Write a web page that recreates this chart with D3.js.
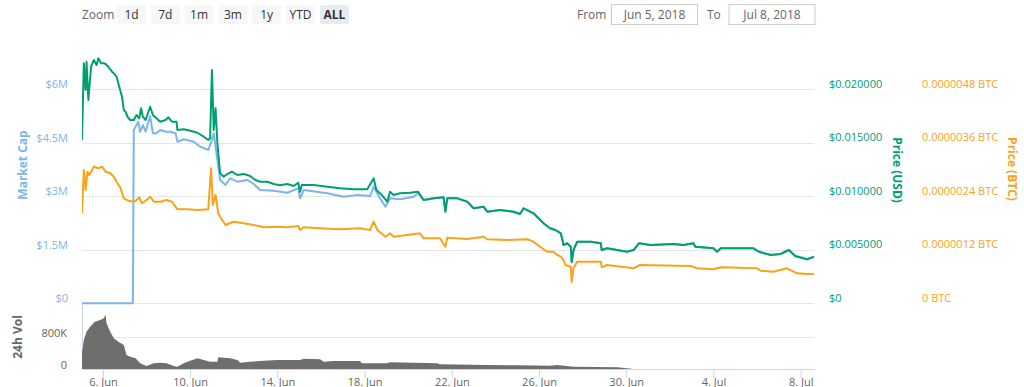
<!DOCTYPE html>
<html>
<head>
<meta charset="utf-8">
<script src="https://cdn.jsdelivr.net/npm/d3@7"></script>
<style>
  body { margin: 0; background: #fff; }
  svg { display: block; font-family: "Open Sans", "DejaVu Sans", sans-serif; }
</style>
</head>
<body>
<svg id="chart" width="1024" height="387"></svg>
<script>
const width = 1024;
const height = 387;

// chart data
const marketCap = [
  ["2018-06-05 01:00", 0], ["2018-06-07 09:00", 0], ["2018-06-07 10:00", 4859000],
  ["2018-06-07 12:00", 4951000], ["2018-06-07 15:00", 5092000], ["2018-06-07 17:00", 4811000],
  ["2018-06-07 20:00", 4999000], ["2018-06-07 23:00", 4811000], ["2018-06-08 04:00", 5251000],
  ["2018-06-08 07:00", 4766000], ["2018-06-08 11:00", 4766000], ["2018-06-08 15:00", 4859000],
  ["2018-06-08 21:00", 4811000], ["2018-06-09 02:00", 4811000], ["2018-06-09 08:00", 4766000],
  ["2018-06-09 10:00", 4531000], ["2018-06-09 17:00", 4598000], ["2018-06-10 04:00", 4531000],
  ["2018-06-10 11:00", 4391000], ["2018-06-10 20:00", 4298000], ["2018-06-11 00:00", 4578000],
  ["2018-06-11 02:00", 4766000], ["2018-06-11 04:00", 4391000], ["2018-06-11 09:00", 3457000],
  ["2018-06-11 15:00", 3317000], ["2018-06-11 20:00", 3505000], ["2018-06-12 04:00", 3409000],
  ["2018-06-12 15:00", 3457000], ["2018-06-12 22:00", 3345000], ["2018-06-13 05:00", 3177000],
  ["2018-06-13 20:00", 3157000], ["2018-06-14 11:00", 3101000], ["2018-06-14 23:00", 3224000],
  ["2018-06-15 01:00", 2944000], ["2018-06-15 05:00", 3177000], ["2018-06-16 07:00", 3084000],
  ["2018-06-17 01:00", 2989000], ["2018-06-17 16:00", 3036000], ["2018-06-18 06:00", 3008000],
  ["2018-06-18 10:00", 3269000], ["2018-06-18 17:00", 2944000], ["2018-06-18 23:00", 2708000],
  ["2018-06-19 04:00", 2944000], ["2018-06-19 15:00", 2916000], ["2018-06-20 06:00", 2989000],
  ["2018-06-20 11:00", 3084000], ["2018-06-20 17:00", 2896000], ["2018-06-21 04:00", 2944000],
  ["2018-06-21 15:00", 2972000], ["2018-06-21 17:00", 2568000], ["2018-06-21 19:00", 2944000],
  ["2018-06-22 06:00", 2944000], ["2018-06-22 17:00", 2849000], ["2018-06-23 00:00", 2664000],
  ["2018-06-23 11:00", 2708000], ["2018-06-23 15:00", 2568000], ["2018-06-24 05:00", 2616000],
  ["2018-06-24 20:00", 2568000], ["2018-06-25 03:00", 2504000], ["2018-06-25 07:00", 2664000],
  ["2018-06-25 18:00", 2523000], ["2018-06-26 05:00", 2243000], ["2018-06-26 12:00", 2103000],
  ["2018-06-26 18:00", 2055000], ["2018-06-27 00:00", 1963000], ["2018-06-27 03:00", 1635000],
  ["2018-06-27 07:00", 1682000], ["2018-06-27 11:00", 1587000], ["2018-06-27 12:00", 1158000],
  ["2018-06-27 14:00", 1494000], ["2018-06-27 18:00", 1727000], ["2018-06-28 09:00", 1727000],
  ["2018-06-28 20:00", 1682000], ["2018-06-28 21:00", 1494000], ["2018-06-29 03:00", 1542000],
  ["2018-06-29 14:00", 1494000], ["2018-06-30 01:00", 1447000], ["2018-06-30 08:00", 1494000],
  ["2018-06-30 14:00", 1682000], ["2018-07-01 03:00", 1635000], ["2018-07-02 04:00", 1663000],
  ["2018-07-02 15:00", 1635000], ["2018-07-03 02:00", 1682000], ["2018-07-03 04:00", 1587000],
  ["2018-07-04 00:00", 1542000], ["2018-07-04 04:00", 1447000], ["2018-07-04 08:00", 1542000],
  ["2018-07-05 06:00", 1542000], ["2018-07-05 20:00", 1542000], ["2018-07-06 02:00", 1447000],
  ["2018-07-06 15:00", 1354000], ["2018-07-07 02:00", 1382000], ["2018-07-07 11:00", 1494000],
  ["2018-07-07 18:00", 1326000], ["2018-07-08 07:00", 1234000], ["2018-07-08 15:00", 1307000]
];

const priceUsd = [
  ["2018-06-05 01:00", 0.01526], ["2018-06-05 03:00", 0.02243], ["2018-06-05 05:00", 0.01994],
  ["2018-06-05 06:00", 0.02258], ["2018-06-05 08:00", 0.01900], ["2018-06-05 11:00", 0.02211],
  ["2018-06-05 14:00", 0.02274], ["2018-06-05 17:00", 0.02227], ["2018-06-05 19:00", 0.02290],
  ["2018-06-05 22:00", 0.02243], ["2018-06-06 01:00", 0.02243], ["2018-06-06 03:00", 0.02237],
  ["2018-06-06 06:00", 0.02211], ["2018-06-06 10:00", 0.02165], ["2018-06-06 12:00", 0.02150],
  ["2018-06-06 15:00", 0.02118], ["2018-06-06 18:00", 0.02024], ["2018-06-06 21:00", 0.01931],
  ["2018-06-06 23:00", 0.01807], ["2018-06-07 01:00", 0.01791], ["2018-06-07 03:00", 0.01744],
  ["2018-06-07 06:00", 0.01713], ["2018-06-07 10:00", 0.01713], ["2018-06-07 13:00", 0.01760],
  ["2018-06-07 16:00", 0.01729], ["2018-06-07 18:00", 0.01822], ["2018-06-07 20:00", 0.01744],
  ["2018-06-07 23:00", 0.01713], ["2018-06-08 04:00", 0.01837], ["2018-06-08 07:00", 0.01760],
  ["2018-06-08 11:00", 0.01729], ["2018-06-08 15:00", 0.01697], ["2018-06-08 21:00", 0.01713],
  ["2018-06-09 00:00", 0.01738], ["2018-06-09 04:00", 0.01697], ["2018-06-09 09:00", 0.01697],
  ["2018-06-09 10:00", 0.01620], ["2018-06-09 17:00", 0.01626], ["2018-06-10 00:00", 0.01613],
  ["2018-06-10 08:00", 0.01594], ["2018-06-10 15:00", 0.01557], ["2018-06-10 20:00", 0.01526],
  ["2018-06-10 22:00", 0.01542], ["2018-06-11 00:00", 0.02180], ["2018-06-11 02:00", 0.01620],
  ["2018-06-11 04:00", 0.01822], ["2018-06-11 06:00", 0.01498], ["2018-06-11 09:00", 0.01215],
  ["2018-06-11 13:00", 0.01183], ["2018-06-11 17:00", 0.01208], ["2018-06-11 22:00", 0.01230],
  ["2018-06-12 04:00", 0.01199], ["2018-06-12 11:00", 0.01208], ["2018-06-12 18:00", 0.01190],
  ["2018-06-13 00:00", 0.01152], ["2018-06-13 05:00", 0.01136], ["2018-06-13 13:00", 0.01136],
  ["2018-06-13 20:00", 0.01115], ["2018-06-14 03:00", 0.01103], ["2018-06-14 11:00", 0.01115],
  ["2018-06-14 18:00", 0.01096], ["2018-06-14 23:00", 0.01127], ["2018-06-15 01:00", 0.01043],
  ["2018-06-15 03:00", 0.01106], ["2018-06-15 16:00", 0.01106], ["2018-06-16 07:00", 0.01090],
  ["2018-06-16 21:00", 0.01075], ["2018-06-17 12:00", 0.01065], ["2018-06-18 03:00", 0.01065],
  ["2018-06-18 10:00", 0.01168], ["2018-06-18 13:00", 0.01059], ["2018-06-18 19:00", 0.01012],
  ["2018-06-19 01:00", 0.00950], ["2018-06-19 04:00", 0.01043], ["2018-06-19 08:00", 0.01012],
  ["2018-06-19 15:00", 0.01028], ["2018-06-20 02:00", 0.01034], ["2018-06-20 11:00", 0.01043],
  ["2018-06-20 17:00", 0.00965], ["2018-06-21 04:00", 0.00981], ["2018-06-21 15:00", 0.00991],
  ["2018-06-21 17:00", 0.00856], ["2018-06-21 19:00", 0.00981], ["2018-06-22 06:00", 0.00981],
  ["2018-06-22 17:00", 0.00950], ["2018-06-23 00:00", 0.00888], ["2018-06-23 11:00", 0.00903],
  ["2018-06-23 15:00", 0.00856], ["2018-06-24 05:00", 0.00872], ["2018-06-24 20:00", 0.00856],
  ["2018-06-25 03:00", 0.00835], ["2018-06-25 07:00", 0.00888], ["2018-06-25 18:00", 0.00841],
  ["2018-06-26 05:00", 0.00748], ["2018-06-26 12:00", 0.00701], ["2018-06-26 18:00", 0.00685],
  ["2018-06-27 00:00", 0.00654], ["2018-06-27 03:00", 0.00545], ["2018-06-27 07:00", 0.00561],
  ["2018-06-27 11:00", 0.00529], ["2018-06-27 12:00", 0.00386], ["2018-06-27 14:00", 0.00498],
  ["2018-06-27 18:00", 0.00576], ["2018-06-28 09:00", 0.00576], ["2018-06-28 20:00", 0.00561],
  ["2018-06-28 21:00", 0.00498], ["2018-06-29 03:00", 0.00514], ["2018-06-29 14:00", 0.00498],
  ["2018-06-30 01:00", 0.00482], ["2018-06-30 08:00", 0.00498], ["2018-06-30 14:00", 0.00561],
  ["2018-07-01 03:00", 0.00545], ["2018-07-02 04:00", 0.00554], ["2018-07-02 15:00", 0.00545],
  ["2018-07-03 02:00", 0.00561], ["2018-07-03 04:00", 0.00529], ["2018-07-04 00:00", 0.00514],
  ["2018-07-04 04:00", 0.00482], ["2018-07-04 08:00", 0.00514], ["2018-07-05 06:00", 0.00514],
  ["2018-07-05 20:00", 0.00514], ["2018-07-06 02:00", 0.00482], ["2018-07-06 15:00", 0.00451],
  ["2018-07-07 02:00", 0.00461], ["2018-07-07 11:00", 0.00498], ["2018-07-07 18:00", 0.00442],
  ["2018-07-08 07:00", 0.00411], ["2018-07-08 15:00", 0.00436]
];

const priceBtc = [
  ["2018-06-05 01:00", 2.019e-6], ["2018-06-05 03:00", 2.990e-6], ["2018-06-05 05:00", 2.541e-6],
  ["2018-06-05 07:00", 2.952e-6], ["2018-06-05 09:00", 2.878e-6], ["2018-06-05 14:00", 3.064e-6],
  ["2018-06-05 19:00", 3.028e-6], ["2018-06-05 23:00", 3.064e-6], ["2018-06-06 03:00", 2.952e-6],
  ["2018-06-06 08:00", 2.916e-6], ["2018-06-06 12:00", 2.840e-6], ["2018-06-06 15:00", 2.728e-6],
  ["2018-06-06 19:00", 2.602e-6], ["2018-06-06 23:00", 2.355e-6], ["2018-06-07 04:00", 2.301e-6],
  ["2018-06-07 10:00", 2.279e-6], ["2018-06-07 13:00", 2.317e-6], ["2018-06-07 16:00", 2.378e-6],
  ["2018-06-07 19:00", 2.243e-6], ["2018-06-08 00:00", 2.317e-6], ["2018-06-08 04:00", 2.391e-6],
  ["2018-06-08 08:00", 2.279e-6], ["2018-06-08 15:00", 2.279e-6], ["2018-06-08 22:00", 2.317e-6],
  ["2018-06-09 04:00", 2.279e-6], ["2018-06-09 10:00", 2.108e-6], ["2018-06-09 21:00", 2.108e-6],
  ["2018-06-10 08:00", 2.093e-6], ["2018-06-10 20:00", 2.108e-6], ["2018-06-10 23:00", 3.028e-6],
  ["2018-06-11 01:00", 2.205e-6], ["2018-06-11 04:00", 2.429e-6], ["2018-06-11 07:00", 2.019e-6],
  ["2018-06-11 09:00", 1.942e-6], ["2018-06-11 15:00", 1.756e-6], ["2018-06-12 00:00", 1.830e-6],
  ["2018-06-12 11:00", 1.794e-6], ["2018-06-12 22:00", 1.756e-6], ["2018-06-13 09:00", 1.705e-6],
  ["2018-06-14 00:00", 1.718e-6], ["2018-06-14 11:00", 1.705e-6], ["2018-06-14 23:00", 1.734e-6],
  ["2018-06-15 01:00", 1.644e-6], ["2018-06-15 05:00", 1.705e-6], ["2018-06-15 23:00", 1.682e-6],
  ["2018-06-16 21:00", 1.660e-6], ["2018-06-17 19:00", 1.682e-6], ["2018-06-18 06:00", 1.644e-6],
  ["2018-06-18 10:00", 1.830e-6], ["2018-06-18 14:00", 1.644e-6], ["2018-06-18 23:00", 1.494e-6],
  ["2018-06-19 04:00", 1.570e-6], ["2018-06-19 08:00", 1.494e-6], ["2018-06-19 23:00", 1.532e-6],
  ["2018-06-20 13:00", 1.570e-6], ["2018-06-20 17:00", 1.458e-6], ["2018-06-21 11:00", 1.458e-6],
  ["2018-06-21 17:00", 1.270e-6], ["2018-06-21 19:00", 1.471e-6], ["2018-06-22 17:00", 1.442e-6],
  ["2018-06-23 11:00", 1.494e-6], ["2018-06-23 15:00", 1.436e-6], ["2018-06-24 13:00", 1.420e-6],
  ["2018-06-25 11:00", 1.436e-6], ["2018-06-25 18:00", 1.382e-6], ["2018-06-26 01:00", 1.270e-6],
  ["2018-06-26 09:00", 1.157e-6], ["2018-06-26 16:00", 1.157e-6], ["2018-06-26 20:00", 1.083e-6],
  ["2018-06-27 00:00", 1.045e-6], ["2018-06-27 03:00", 0.971e-6], ["2018-06-27 05:00", 0.859e-6],
  ["2018-06-27 11:00", 0.821e-6], ["2018-06-27 12:00", 0.478e-6], ["2018-06-27 14:00", 0.792e-6],
  ["2018-06-27 18:00", 0.933e-6], ["2018-06-28 20:00", 0.933e-6], ["2018-06-28 21:00", 0.807e-6],
  ["2018-06-29 03:00", 0.859e-6], ["2018-06-30 08:00", 0.785e-6], ["2018-06-30 15:00", 0.859e-6],
  ["2018-07-02 23:00", 0.837e-6], ["2018-07-03 06:00", 0.785e-6], ["2018-07-04 00:00", 0.763e-6],
  ["2018-07-04 08:00", 0.807e-6], ["2018-07-06 00:00", 0.785e-6], ["2018-07-06 04:00", 0.731e-6],
  ["2018-07-06 18:00", 0.709e-6], ["2018-07-07 09:00", 0.785e-6], ["2018-07-07 20:00", 0.673e-6],
  ["2018-07-08 07:00", 0.657e-6], ["2018-07-08 15:00", 0.657e-6]
];

const volume24h = [
  ["2018-06-05 01:00", 404000], ["2018-06-05 03:00", 732000], ["2018-06-05 06:00", 941000],
  ["2018-06-05 10:00", 1068000], ["2018-06-05 15:00", 1194000], ["2018-06-05 21:00", 1237000],
  ["2018-06-06 01:00", 1280000], ["2018-06-06 03:00", 1363000], ["2018-06-06 04:00", 1153000],
  ["2018-06-06 08:00", 941000], ["2018-06-06 12:00", 775000], ["2018-06-06 17:00", 689000],
  ["2018-06-06 23:00", 606000], ["2018-06-07 02:00", 353000], ["2018-06-07 06:00", 310000],
  ["2018-06-07 12:00", 270000], ["2018-06-07 17:00", 144000], ["2018-06-08 00:00", 76000],
  ["2018-06-08 08:00", 144000], ["2018-06-08 15:00", 159000], ["2018-06-08 22:00", 144000],
  ["2018-06-09 06:00", 76000], ["2018-06-09 10:00", 58000], ["2018-06-09 17:00", 144000],
  ["2018-06-10 00:00", 209000], ["2018-06-10 08:00", 270000], ["2018-06-10 15:00", 227000],
  ["2018-06-10 22:00", 184000], ["2018-06-11 06:00", 184000], ["2018-06-11 07:00", 295000],
  ["2018-06-11 20:00", 270000], ["2018-06-12 04:00", 227000], ["2018-06-12 07:00", 159000],
  ["2018-06-12 18:00", 184000], ["2018-06-13 09:00", 209000], ["2018-06-14 00:00", 227000],
  ["2018-06-15 01:00", 227000], ["2018-06-15 05:00", 260000], ["2018-06-15 23:00", 245000],
  ["2018-06-16 03:00", 184000], ["2018-06-16 14:00", 202000], ["2018-06-17 19:00", 202000],
  ["2018-06-17 21:00", 144000], ["2018-06-19 01:00", 144000], ["2018-06-19 04:00", 169000],
  ["2018-06-21 08:00", 144000], ["2018-06-21 11:00", 119000], ["2018-06-23 15:00", 101000],
  ["2018-06-25 03:00", 93000], ["2018-06-26 12:00", 83000], ["2018-06-26 20:00", 101000],
  ["2018-06-27 14:00", 58000], ["2018-06-29 14:00", 43000], ["2018-06-30 01:00", 18000],
  ["2018-06-30 08:00", 0], ["2018-07-08 15:00", 0]
];

// axis ticks
const capTicks = [0, 1500000, 3000000, 4500000, 6000000];
const capLabels = ["$0", "$1.5M", "$3M", "$4.5M", "$6M"];
const usdTicks = [0, 0.005, 0.01, 0.015, 0.02];
const usdLabels = ["$0", "$0.005000", "$0.010000", "$0.015000", "$0.020000"];
const btcTicks = [0, 0.0000012, 0.0000024, 0.0000036, 0.0000048];
const btcLabels = ["0 BTC", "0.0000012 BTC", "0.0000024 BTC", "0.0000036 BTC", "0.0000048 BTC"];
const volTicks = [0, 800000];
const volLabels = ["0", "800K"];
const dateTicks = ["2018-06-06", "2018-06-10", "2018-06-14", "2018-06-18", "2018-06-22",
  "2018-06-26", "2018-06-30", "2018-07-04", "2018-07-08"];
const zoomButtons = ["1d", "7d", "1m", "3m", "1y", "YTD", "ALL"];
const rangeFrom = "Jun 5, 2018";
const rangeTo = "Jul 8, 2018";

const colors = { cap: "#7cb5ec", usd: "#009e73", btc: "#f9a21a", vol: "#6e6e6e" };

const parseTime = d3.utcParse("%Y-%m-%d %H:%M");
const parseDay = d3.utcParse("%Y-%m-%d");

const left = 82, right = 814.3;
const mainTop = 36, mainBottom = 303.3;
const volTop = 303.3, volBottom = 369;

const x = d3.scaleUtc()
  .domain([parseTime("2018-06-05 01:00"), parseTime("2018-07-08 15:00")])
  .range([left, right]);
const yCap = d3.scaleLinear().domain([0, 6000000]).range([mainBottom, 89.3]);
const yUsd = d3.scaleLinear().domain([0, 0.02]).range([mainBottom, 89.3]);
const yBtc = d3.scaleLinear().domain([0, 0.0000048]).range([mainBottom, 89.3]);
const yVol = d3.scaleLinear().domain([0, 800000]).range([volBottom, 337.3]);

const svg = d3.select("#chart");
svg.append("rect").attr("width", width).attr("height", height).attr("fill", "#fff");

svg.append("defs").append("clipPath").attr("id", "plotClip")
  .append("rect").attr("x", left).attr("y", mainTop)
  .attr("width", right - left).attr("height", volBottom - mainTop);

// gridlines
svg.append("g").selectAll("line")
  .data(capTicks)
  .join("line")
  .attr("x1", left).attr("x2", right)
  .attr("y1", d => Math.round(yCap(d)) + 0.5).attr("y2", d => Math.round(yCap(d)) + 0.5)
  .attr("stroke", "#e6e6e6");
svg.append("line")
  .attr("x1", left).attr("x2", right)
  .attr("y1", Math.round(yVol(800000)) + 0.5).attr("y2", Math.round(yVol(800000)) + 0.5)
  .attr("stroke", "#e6e6e6");
svg.append("line")
  .attr("x1", left + 0.5).attr("x2", left + 0.5)
  .attr("y1", volTop).attr("y2", volBottom)
  .attr("stroke", "#ccd6eb");

// volume area
const volArea = d3.area()
  .x(d => x(parseTime(d[0])))
  .y0(yVol(0))
  .y1(d => yVol(d[1]));
svg.append("path")
  .datum(volume24h)
  .attr("clip-path", "url(#plotClip)")
  .attr("d", volArea)
  .attr("fill", colors.vol);

// price lines
function drawLine(data, yScale, color) {
  const line = d3.line()
    .x(d => x(parseTime(d[0])))
    .y(d => yScale(d[1]));
  svg.append("path")
    .datum(data)
    .attr("clip-path", "url(#plotClip)")
    .attr("d", line)
    .attr("fill", "none")
    .attr("stroke", color)
    .attr("stroke-width", 2)
    .attr("stroke-linejoin", "round");
}
drawLine(marketCap, yCap, colors.cap);
drawLine(priceBtc, yBtc, colors.btc);
drawLine(priceUsd, yUsd, colors.usd);

// x axis
const xAxis = svg.append("g")
  .attr("transform", `translate(0,${volBottom})`)
  .call(d3.axisBottom(x)
    .tickValues(dateTicks.map(parseDay))
    .tickSize(9)
    .tickSizeOuter(0)
    .tickPadding(0)
    .tickFormat(d3.utcFormat("%-d. %b")));
xAxis.select(".domain").attr("stroke", "#ccd6eb");
xAxis.selectAll(".tick line").attr("stroke", "#ccd6eb");
xAxis.selectAll(".tick text")
  .attr("fill", "#666")
  .style("font-size", "11px")
  .style("font-family", "'Open Sans', sans-serif");

// y axes
function yAxis(axisFn, scale, ticks, labels, xPos, color, dy) {
  const g = svg.append("g")
    .attr("transform", `translate(${xPos},0)`)
    .call(axisFn(scale)
      .tickValues(ticks)
      .tickSize(0)
      .tickPadding(0)
      .tickFormat((d, i) => labels[i]));
  g.select(".domain").remove();
  g.selectAll(".tick text")
    .attr("y", dy)
    .attr("fill", color)
    .style("font-size", "11px")
    .style("font-family", "'Open Sans', sans-serif");
  return g;
}
yAxis(d3.axisLeft, yCap, capTicks, capLabels, 68, colors.cap, -5);
yAxis(d3.axisRight, yUsd, usdTicks, usdLabels, 829, colors.usd, -5.5);
yAxis(d3.axisRight, yBtc, btcTicks, btcLabels, 922, colors.btc, -5.5);
yAxis(d3.axisLeft, yVol, volTicks, volLabels, 67, "#666", -4.5);

// axis titles
function axisTitle(text, cx, cy, angle, color) {
  svg.append("text")
    .attr("transform", `translate(${cx},${cy}) rotate(${angle})`)
    .attr("text-anchor", "middle")
    .attr("dominant-baseline", "central")
    .attr("fill", color)
    .style("font-size", "12px")
    .style("font-weight", "bold")
    .text(text);
}
axisTitle("Market Cap", 22, 165, -90, colors.cap);
axisTitle("24h Vol", 17, 337, -90, "#666");
axisTitle("Price (USD)", 897, 170, 90, colors.usd);
axisTitle("Price (BTC)", 1012, 169, 90, colors.btc);

// range selector
svg.append("text")
  .attr("x", 82).attr("y", 18.5)
  .attr("fill", "#666")
  .style("font-size", "12px")
  .text("Zoom");
const btn = svg.append("g").selectAll("g")
  .data(zoomButtons)
  .join("g")
  .attr("transform", (d, i) => `translate(${117 + i * 33.8},5)`);
btn.append("rect")
  .attr("width", 29).attr("height", 19).attr("rx", 2)
  .attr("fill", d => d === "ALL" ? "#e6ebf5" : "#f7f7f7");
btn.append("text")
  .attr("x", 14.5).attr("y", 13.5)
  .attr("text-anchor", "middle")
  .attr("fill", "#333")
  .style("font-size", "12px")
  .style("font-weight", d => d === "ALL" ? "bold" : "normal")
  .text(d => d);

svg.append("text")
  .attr("x", 577).attr("y", 18.5)
  .attr("fill", "#666").style("font-size", "12px").text("From");
svg.append("text")
  .attr("x", 707).attr("y", 18.5)
  .attr("fill", "#666").style("font-size", "12px").text("To");
const inputs = [[611.5, rangeFrom], [729, rangeTo]];
inputs.forEach(([ix, label]) => {
  svg.append("rect")
    .attr("x", ix).attr("y", 4.5)
    .attr("width", 86).attr("height", 20)
    .attr("fill", "#fff").attr("stroke", "#ccc");
  svg.append("text")
    .attr("x", ix + 43).attr("y", 18.5)
    .attr("text-anchor", "middle")
    .attr("fill", "#666")
    .style("font-size", "12px")
    .text(label);
});
</script>
</body>
</html>
